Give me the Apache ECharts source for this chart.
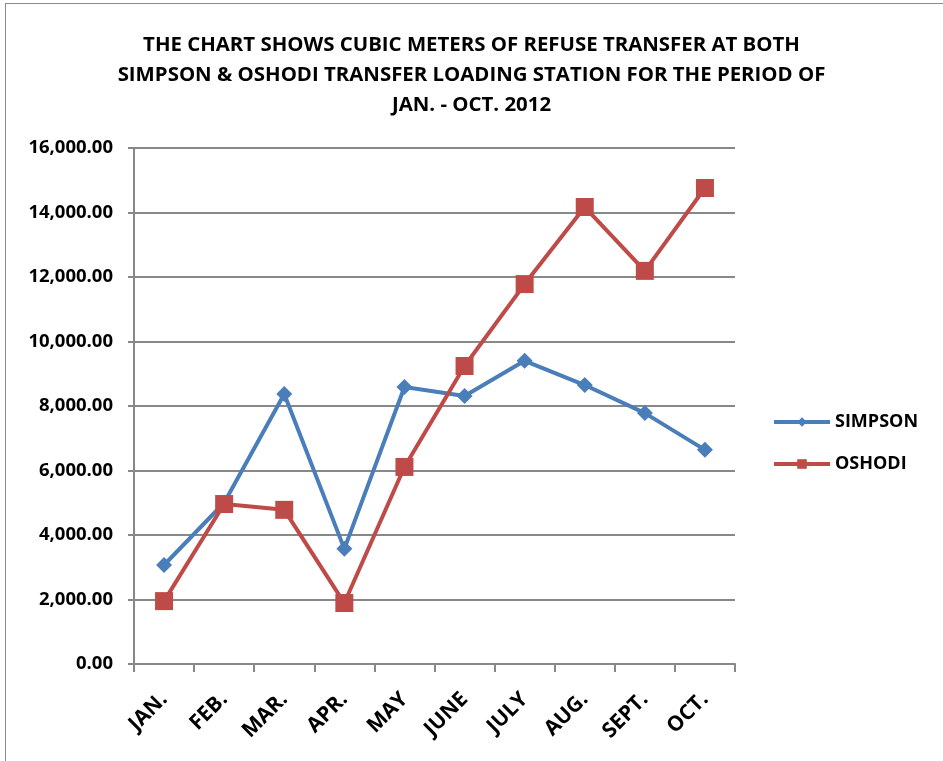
<!DOCTYPE html>
<html><head><meta charset="utf-8">
<script src="https://cdn.jsdelivr.net/npm/echarts@6/dist/echarts.min.js"></script>
<style>
html,body{margin:0;padding:0;background:#fff;}
#frame{position:absolute;left:5px;top:3px;width:950px;height:770px;border:1.5px solid #8c8c8c;box-sizing:border-box;}
#c{position:absolute;left:0;top:0;width:943px;height:761px;}
</style></head>
<body>
<div id="frame"></div>
<div id="c"></div>
<script>
const categories = ['JAN.','FEB.','MAR.','APR.','MAY','JUNE','JULY','AUG.','SEPT.','OCT.'];
const simpson = [3070, 5000, 8370, 3570, 8590, 8310, 9400, 8650, 7780, 6640];
const oshodi = [1950, 4960, 4780, 1890, 6110, 9240, 11780, 14170, 12190, 14760];
const titleLines = ['THE CHART SHOWS CUBIC METERS OF REFUSE TRANSFER AT BOTH','SIMPSON & OSHODI TRANSFER LOADING STATION FOR THE PERIOD OF','JAN. - OCT. 2012'];

const chart = echarts.init(document.getElementById('c'), null, {renderer:'canvas'});
const capFont = "'Open Sans', sans-serif";
chart.setOption({
  backgroundColor: 'transparent',
  animation: false,
  title: {
    text: titleLines.join('\n'),
    left: 'center', top: 25, padding: [5, 0, 5, 0],
    textStyle: {fontFamily: capFont, fontWeight: 'bold', fontSize: 20.4, lineHeight: 30, color: '#000'}
  },
  legend: {
    orient: 'vertical', left: 772, top: 413, padding: 0,
    itemWidth: 56, itemHeight: 12, itemGap: 24,
    lineStyle: {width: 4},
    textStyle: {fontFamily: capFont, fontWeight: 'bold', fontSize: 18, color: '#000'},
    data: ['SIMPSON','OSHODI']
  },
  grid: {left: 134, right: 208, top: 148, bottom: 97, containLabel: false},
  xAxis: {
    type: 'category', data: categories, boundaryGap: true,
    axisLine: {lineStyle: {color: '#888', width: 2}},
    axisTick: {show: true, length: 8, lineStyle: {color: '#888', width: 2}},
    axisLabel: {rotate: 45, interval: 0, margin: 32, fontFamily: capFont, fontWeight: 'bold', fontSize: 21, color: '#000'}
  },
  yAxis: {
    type: 'value', min: 0, max: 16000, interval: 2000,
    axisLine: {show: true, lineStyle: {color: '#888', width: 2}},
    axisTick: {show: true, length: 6, lineStyle: {color: '#888', width: 2}},
    splitLine: {lineStyle: {color: '#888', width: 2}},
    axisLabel: {margin: 21, fontFamily: capFont, fontWeight: 'bold', fontSize: 18.5, color: '#000',
      formatter: v => v.toLocaleString('en-US', {minimumFractionDigits: 2, maximumFractionDigits: 2})}
  },
  series: [
    {name: 'SIMPSON', type: 'line', data: simpson, symbol: 'diamond', symbolSize: 16,
     lineStyle: {color: '#4A7EBB', width: 4}, itemStyle: {color: '#4A7EBB'}},
    {name: 'OSHODI', type: 'line', data: oshodi, symbol: 'rect', symbolSize: 18,
     lineStyle: {color: '#BE4B48', width: 4}, itemStyle: {color: '#BE4B48'}}
  ]
});
</script>
</body></html>
